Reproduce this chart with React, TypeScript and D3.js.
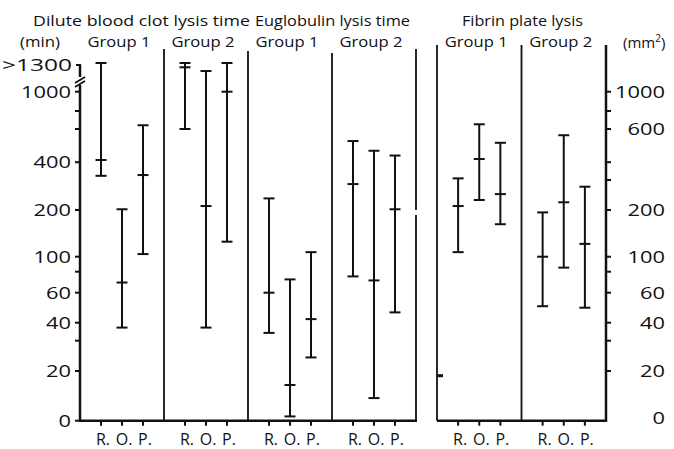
import React from "react";
import * as d3 from "d3";

const panelTitles = ["Dilute blood clot lysis time", "Euglobulin lysis time", "Fibrin plate lysis"];
const groupNames = ["Group 1", "Group 2", "Group 1", "Group 2", "Group 1", "Group 2"];
const subjects = ["R", "O", "P"];
// 6 groups x 3 subjects (R, O, P)
const lowValues = [321, 37, 104, 600, 37, 125, 34, 0.3, 24, 75, 3, 46, 107, 229, 162, 50, 85, 49];
const medianValues = [411, 69, 325, 1250, 211, 1000, 60, 7.9, 42, 284, 71, 202, 211, 416, 248, 100, 222, 121];
const highValues = [1300, 202, 637, 1300, 1208, 1300, 234, 72, 107, 518, 460, 434, 308, 647, 507, 193, 556, 274];
const scaleDomain = [0, 20, 30, 40, 60, 80, 100, 200, 300, 400, 600, 800, 1000, 1300];
const leftTicks = [1000, 800, 600, 400, 200, 100, 80, 60, 40, 30, 20, 0];
const leftLabels = [1000, 400, 200, 100, 60, 40, 20, 0];
const rightTicks = [1000, 800, 600, 400, 300, 200, 100, 80, 60, 40, 30, 20];
const rightLabels = [1000, 600, 200, 100, 60, 40, 20, 0];
const leftUnit = "(min)";
const topLabel = ">1300";

const FONT = "'Open Sans', 'DejaVu Sans', sans-serif";

export default function App() {
  const W = 674, H = 449;
  const y = d3.scaleSymlog()
    .domain(scaleDomain)
    .range([420.7, 371, 340.7, 322.7, 292.7, 271.7, 256.7, 210, 180, 162.2, 129, 111, 91.7, 63]);
  const bottom = y(0);
  const leftX = 80, leftEnd = 416, rightStart = 437, rightX = 606;
  const gLeft = d3.scaleBand<number>().domain([0, 1, 2, 3]).range([leftX, leftEnd]).paddingInner(0);
  const gRight = d3.scaleBand<number>().domain([4, 5]).range([rightStart, rightX]).paddingInner(0);
  const gx = (g: number) => (g < 4 ? gLeft(g)! : gRight(g)!);
  const gw = (g: number) => (g < 4 ? gLeft.bandwidth() : gRight.bandwidth());
  const px = (g: number) => d3.scalePoint<string>().domain(subjects).range([0, gw(g)]).padding(1);

  const stroke = "#111";
  const capW = 5.5;

  const bars = d3.range(18).map((i) => {
    const g = Math.floor(i / 3);
    const s = subjects[i % 3];
    return { g, s, x: gx(g) + px(g)(s)!, lo: lowValues[i], md: medianValues[i], hi: highValues[i] };
  });

  const digitW = 12.5;
  const titleCenters = [141.5, 332.5, 522.5];
  const titleLens = [217, 155, 121];

  return (
    <svg width={W} height={H} style={{ position: "absolute", left: 0, top: 0, background: "#fff" }} fontFamily={FONT}>
      <rect x={0} y={0} width={W} height={H} fill="#fff" />
      {/* titles */}
      {panelTitles.map((t, i) => (
        <text key={t} x={titleCenters[i]} y={26} textAnchor="middle" fontSize={15} fill={stroke}
          textLength={titleLens[i]} lengthAdjust="spacingAndGlyphs">{t}</text>
      ))}
      {groupNames.map((t, g) => (
        <text key={g} x={gx(g) + gw(g) / 2 - 3} y={47} textAnchor="middle" fontSize={15} fill={stroke}
          textLength={63} lengthAdjust="spacingAndGlyphs">{t}</text>
      ))}
      <text x={20} y={47} fontSize={15} fill={stroke} textLength={40} lengthAdjust="spacingAndGlyphs">{leftUnit}</text>
      <text x={623} y={48} fontSize={15} fill={stroke}>
        (mm<tspan fontSize={10} dy={-6}>2</tspan><tspan dy={6}>)</tspan>
      </text>

      {/* left axis with break */}
      <line x1={leftX} x2={leftX} y1={y(1300) + 2} y2={77} stroke={stroke} strokeWidth={2.5} />
      <line x1={leftX - 4} x2={leftX + 1} y1={y(1300) + 2} y2={y(1300) + 2} stroke={stroke} strokeWidth={2} />
      <line x1={leftX - 5} x2={leftX + 5} y1={83} y2={77} stroke={stroke} strokeWidth={1.8} />
      <line x1={leftX - 5} x2={leftX + 5} y1={87} y2={81} stroke={stroke} strokeWidth={1.8} />
      <line x1={leftX} x2={leftX} y1={85} y2={bottom + 1.2} stroke={stroke} strokeWidth={2.5} />
      {leftTicks.map((v) => (
        <line key={v} x1={leftX - 5} x2={leftX} y1={y(v)} y2={y(v)} stroke={stroke} strokeWidth={2} />
      ))}
      {leftLabels.map((v) => {
        const s = String(v);
        return (
          <text key={v} x={71} y={y(v) + 6} textAnchor="end" fontSize={17} fill={stroke}
            textLength={s.length * digitW} lengthAdjust="spacingAndGlyphs">{s}</text>
        );
      })}
      <text x={72} y={y(1300) + 8} textAnchor="end" fontSize={17} fill={stroke}
        textLength={70} lengthAdjust="spacingAndGlyphs">{topLabel}</text>

      {/* right axis */}
      <line x1={rightX} x2={rightX} y1={45} y2={bottom + 1.2} stroke={stroke} strokeWidth={2.5} />
      {rightTicks.map((v) => (
        <line key={v} x1={rightX} x2={rightX + 5} y1={y(v)} y2={y(v)} stroke={stroke} strokeWidth={2} />
      ))}
      {rightLabels.map((v) => {
        const s = String(v);
        return (
          <text key={v} x={665} y={y(v) + 6 - (v === 0 ? 3 : 0)} textAnchor="end" fontSize={17} fill={stroke}
            textLength={s.length * digitW} lengthAdjust="spacingAndGlyphs">{s}</text>
        );
      })}

      {/* bottom axes */}
      <line x1={leftX} x2={leftEnd + 1} y1={bottom} y2={bottom} stroke={stroke} strokeWidth={2.5} />
      <line x1={rightStart} x2={rightX} y1={bottom} y2={bottom} stroke={stroke} strokeWidth={2.5} />

      {/* dividers */}
      {[1, 2, 3].map((g) => (
        <line key={g} x1={gx(g)} x2={gx(g)} y1={49 + (g - 1) * 2} y2={bottom} stroke={stroke} strokeWidth={1.8} />
      ))}
      <line x1={leftEnd} x2={leftEnd} y1={49} y2={y(200)} stroke={stroke} strokeWidth={1.8} />
      <line x1={leftEnd} x2={leftEnd} y1={y(200) + 5} y2={bottom} stroke={stroke} strokeWidth={1.8} />
      <line x1={rightStart} x2={rightStart} y1={45} y2={bottom} stroke={stroke} strokeWidth={1.8} />
      <line x1={gx(5)} x2={gx(5)} y1={45} y2={bottom} stroke={stroke} strokeWidth={1.8} />
      <line x1={rightStart} x2={rightStart + 6} y1={375.7} y2={375.7} stroke={stroke} strokeWidth={3} />

      {/* bottom ticks and labels */}
      {bars.map((b, i) => (
        <g key={"t" + i}>
          <line x1={b.x} x2={b.x} y1={bottom} y2={bottom + 5} stroke={stroke} strokeWidth={2} />
          <text x={b.x + 2} y={445} textAnchor="middle" fontSize={16} fill={stroke}>{b.s}.</text>
        </g>
      ))}

      {/* error bars */}
      {bars.map((b, i) => (
        <g key={"b" + i} stroke={stroke} strokeWidth={2}>
          <line x1={b.x} x2={b.x} y1={y(b.hi)} y2={y(b.lo)} />
          <line x1={b.x - capW} x2={b.x + capW} y1={y(b.hi)} y2={y(b.hi)} />
          <line x1={b.x - capW} x2={b.x + capW} y1={y(b.lo)} y2={y(b.lo)} />
          <line x1={b.x - capW} x2={b.x + capW} y1={y(b.md)} y2={y(b.md)} />
        </g>
      ))}
    </svg>
  );
}
